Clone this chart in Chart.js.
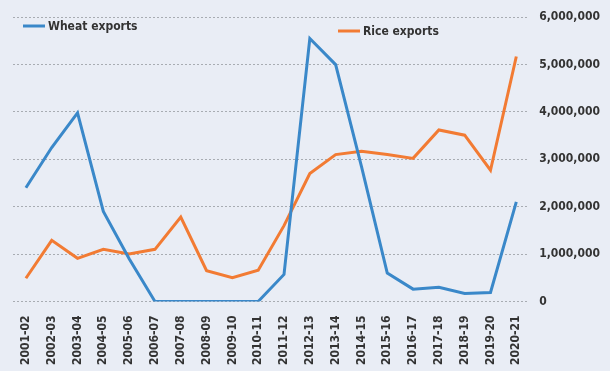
<!DOCTYPE html>
<html>
<head>
<meta charset="utf-8">
<script src="https://cdn.jsdelivr.net/npm/chart.js@4"></script>
<style>
  html, body { margin: 0; padding: 0; background: #e9edf5; }
  #wrap { width: 610px; height: 371px; position: relative; }
</style>
</head>
<body>
<div id="wrap"><canvas id="exportsChart"></canvas></div>
<script>
// Data
const years = ['2001-02', '2002-03', '2003-04', '2004-05', '2005-06', '2006-07', '2007-08',
  '2008-09', '2009-10', '2010-11', '2011-12', '2012-13', '2013-14', '2014-15', '2015-16',
  '2016-17', '2017-18', '2018-19', '2019-20', '2020-21'];
const wheatExports = [2400000, 3250000, 3980000, 1900000, 900000, 0, 0, 0, 0, 0,
  570000, 5550000, 5000000, 2850000, 600000, 260000, 300000, 170000, 190000, 2100000];
const riceExports = [490000, 1290000, 910000, 1100000, 1000000, 1100000, 1780000, 650000,
  500000, 660000, 1600000, 2700000, 3100000, 3170000, 3100000, 3020000, 3620000, 3510000,
  2770000, 5170000];
const yTicks = [0, 1000000, 2000000, 3000000, 4000000, 5000000, 6000000];

const FONT = "'DejaVu Sans Condensed', 'Liberation Sans Narrow', sans-serif";
const blue = '#3a88c9';
const orange = '#f27b33';
const textColor = '#333333';

// legend items drawn at their own spots inside the plot
const legendPlugin = {
  id: 'floatingLegend',
  afterDraw(chart) {
    const ctx = chart.ctx;
    const items = [
      { text: 'Wheat exports', color: blue, x: 23, y: 26 },
      { text: 'Rice exports', color: orange, x: 338, y: 31 }
    ];
    ctx.save();
    ctx.font = 'bold 12px ' + FONT;
    ctx.textBaseline = 'middle';
    items.forEach(it => {
      ctx.strokeStyle = it.color;
      ctx.lineWidth = 3;
      ctx.beginPath();
      ctx.moveTo(it.x, it.y);
      ctx.lineTo(it.x + 22, it.y);
      ctx.stroke();
      ctx.fillStyle = textColor;
      ctx.fillText(it.text, it.x + 25, it.y + 1);
    });
    ctx.restore();
  }
};

const ctx = document.getElementById('exportsChart').getContext('2d');
new Chart(ctx, {
  type: 'line',
  data: {
    labels: years,
    datasets: [
      { label: 'Wheat exports', data: wheatExports, borderColor: blue, borderWidth: 3,
        pointRadius: 0, tension: 0, fill: false },
      { label: 'Rice exports', data: riceExports, borderColor: orange, borderWidth: 3,
        pointRadius: 0, tension: 0, fill: false }
    ]
  },
  options: {
    responsive: true,
    maintainAspectRatio: false,
    animation: false,
    layout: { padding: { left: 13, right: 0, top: 10, bottom: 0 } },
    plugins: { legend: { display: false }, tooltip: { enabled: false } },
    scales: {
      x: {
        offset: true,
        grid: { display: false },
        border: { display: false },
        ticks: {
          minRotation: 90, maxRotation: 90, autoSkip: false, padding: 6,
          color: textColor, font: { family: FONT, size: 12, weight: 'bold' }
        }
      },
      y: {
        position: 'right',
        min: 0, max: 6000000,
        afterBuildTicks: axis => { axis.ticks = yTicks.map(v => ({ value: v })); },
        grid: { color: '#a8acb2', lineWidth: 1, drawTicks: false },
        border: { display: false, dash: [2, 2] },
        ticks: {
          padding: 10, color: textColor,
          font: { family: FONT, size: 12, weight: 'bold' },
          callback: v => v.toLocaleString('en-US')
        }
      }
    }
  },
  plugins: [legendPlugin]
});
</script>
</body>
</html>
